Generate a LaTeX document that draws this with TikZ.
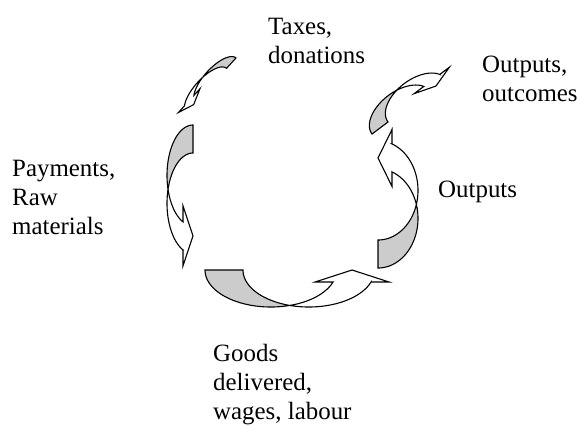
\documentclass[tikz,border=0pt]{standalone}
\usepackage{fontspec}
\setmainfont{Liberation Serif}

\definecolor{backshade}{RGB}{204,204,204}

% ribbon arrow bent round two equal ellipses (radii #1,#2) set #3 apart;
% flat end on x=0, head base at x=-#4, head half span #5
\newcommand{\bentarrow}[5]{%
  \pgfmathsetmacro{\ra}{asin(#3/(2*#2))}%
  \pgfmathsetmacro{\tb}{180-\ra}%
  \pgfmathsetmacro{\tc}{180+\ra}%
  \pgfmathsetmacro{\te}{180-acos(#4/#1)}%
  \pgfmathsetmacro{\yi}{#2*sin(\te)}%
  \pgfmathsetmacro{\yo}{#3+#2*sin(\te)}%
  \pgfmathsetmacro{\ym}{(\yi+\yo)/2}%
  % back face
  \filldraw[ribbon, fill=backshade]
    plot[domain=270:\tb] ({#1*cos(\x)},{#2*sin(\x)})
    -- plot[domain=\tc:270] ({#1*cos(\x)},{#3+#2*sin(\x)}) -- cycle;
  % front face with head
  \filldraw[ribbon, fill=white]
    plot[domain=\tb:\te] ({#1*cos(\x)},{#2*sin(\x)})
    -- (-#4,\ym-#5) -- (0,\ym) -- (-#4,\ym+#5) -- (-#4,\yo)
    -- plot[domain=\te:\tc] ({#1*cos(\x)},{#3+#2*sin(\x)}) -- cycle;
}

\begin{document}
\begin{tikzpicture}[x=1bp, y=-1bp,
  tag/.style={align=left, anchor=base west, inner sep=0pt,
    font=\fontsize{24.9bp}{28.6bp}\selectfont},
  ribbon/.style={draw=black, line width=1.1bp, line join=miter, samples=40}
]
\useasboundingbox (0,0) rectangle (581,425);

% labels, placed by the baseline of their last line
\node[tag] (taxes) at (268,63) {Taxes,\\donations};
\node[tag] (outcomes) at (482,101) {Outputs,\\outcomes};
\node[tag] (outputs) at (438,197) {Outputs};
\node[tag] (payments) at (12,234) {Payments,\\Raw\\materials};
\node[tag] (goods) at (213,419) {Goods\\delivered,\\wages, labour};

% left
\begin{scope}[shift={(193,175.4)}]
  \bentarrow{26}{50.4}{28}{10}{30}
\end{scope}
% bottom
\begin{scope}[shift={(270.8,270)}, rotate=90]
  \bentarrow{37}{65.8}{38}{12}{37}
\end{scope}
% right
\begin{scope}[shift={(378,218.4)}, rotate=180]
  \bentarrow{40}{49.6}{28}{14}{28.5}
\end{scope}
% upper right
\begin{scope}[shift={(400.8,112.4)}, rotate=-53.13, yscale=-1]
  \bentarrow{21}{36}{20}{7}{22}
\end{scope}
% top
\begin{scope}[shift={(215.8,80.2)}, rotate=-42.2]
  \bentarrow{12}{30}{14}{6}{16}
\end{scope}
\end{tikzpicture}
\end{document}
